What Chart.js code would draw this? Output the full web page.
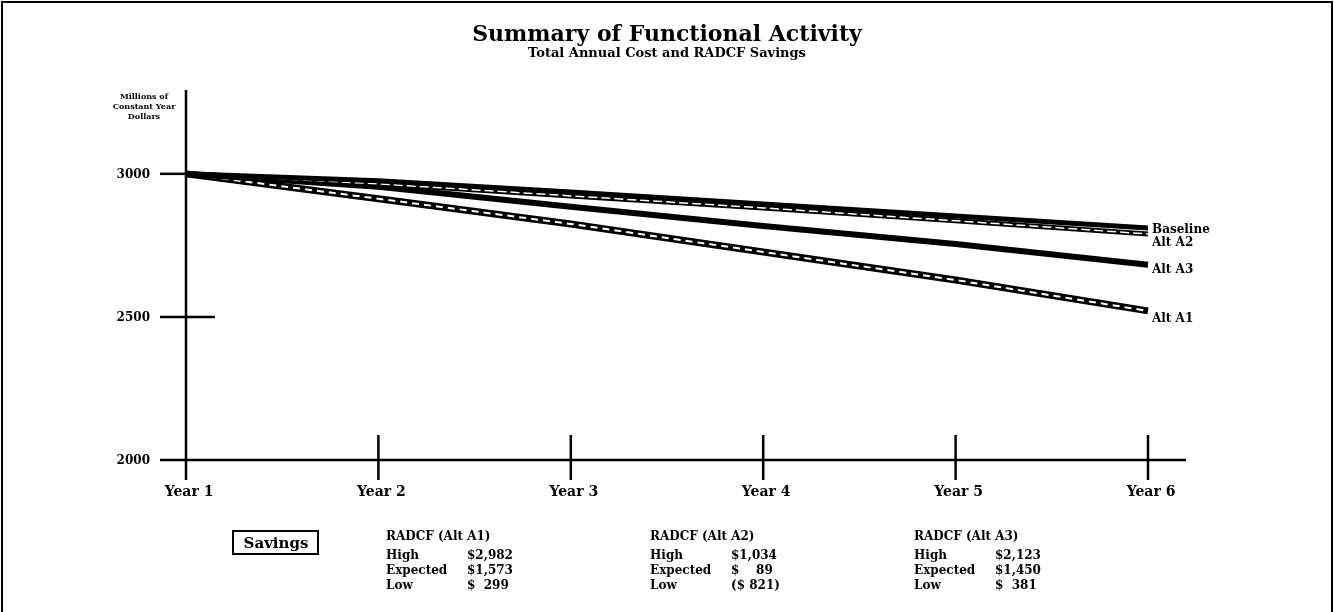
<!DOCTYPE html>
<html>
<head>
<meta charset="utf-8">
<title>Summary of Functional Activity</title>
<script src="https://cdn.jsdelivr.net/npm/chart.js@4.4.1/dist/chart.umd.min.js"></script>
<style>
  html, body { margin: 0; padding: 0; background: #fff; }
  #wrap { position: relative; width: 1334px; height: 612px; }
  canvas { display: block; }
</style>
</head>
<body>
<div id="wrap"><canvas id="activityChart" width="1334" height="612"></canvas></div>
<script>
const years = ['Year 1', 'Year 2', 'Year 3', 'Year 4', 'Year 5', 'Year 6'];
const baseline = [3000, 2976, 2937, 2895, 2853, 2811];
const altA2 = [3000, 2965, 2923, 2881, 2836, 2790];
const altA3 = [3000, 2955, 2885, 2818, 2755, 2682];
const altA1 = [3000, 2913, 2825, 2727, 2629, 2521];
const yTicks = [2000, 2500, 3000];

const savingsTitles = ['RADCF (Alt A1)', 'RADCF (Alt A2)', 'RADCF (Alt A3)'];
const savingsRows = ['High', 'Expected', 'Low'];
const savingsA1 = ['$2,982', '$1,573', '$  299'];
const savingsA2 = ['$1,034', '$    89', '($ 821)'];
const savingsA3 = ['$2,123', '$1,450', '$  381'];

const serif = '"DejaVu Serif", "Liberation Serif", serif';

// line end labels: [dataset label, text, y nudge]
const endLabels = [
    ['Baseline', 'Baseline', 2],
    ['Alt A2 outline', 'Alt A2', 9],
    ['Alt A3', 'Alt A3', 5],
    ['Alt A1 outline', 'Alt A1', 8]
];

const framePlugin = {
    id: 'frame',
    beforeDatasetsDraw(chart) {
        const ctx = chart.ctx;
        const x = chart.scales.x, y = chart.scales.y;
        const x0 = x.getPixelForValue(0);
        const yBase = y.getPixelForValue(2000);
        ctx.save();
        ctx.strokeStyle = '#000';
        ctx.fillStyle = '#000';

        // outer frame
        ctx.lineWidth = 2;
        ctx.strokeRect(2, 2, chart.width - 4, chart.height + 10);

        // titles
        ctx.textAlign = 'center';
        ctx.textBaseline = 'alphabetic';
        ctx.font = 'bold 22px ' + serif;
        ctx.fillText('Summary of Functional Activity', 667, 41);
        ctx.font = 'bold 13px ' + serif;
        ctx.fillText('Total Annual Cost and RADCF Savings', 667, 57);

        // y axis title
        ctx.font = 'bold 8px ' + serif;
        ctx.fillText('Millions of', 144, 99);
        ctx.fillText('Constant Year', 144, 109);
        ctx.fillText('Dollars', 144, 119);

        // axes
        ctx.lineWidth = 2.5;
        ctx.beginPath();
        ctx.moveTo(x0, 90);
        ctx.lineTo(x0, 480);
        ctx.moveTo(160, yBase);
        ctx.lineTo(1186, yBase);
        ctx.stroke();

        // y ticks and labels
        ctx.font = 'bold 12px ' + serif;
        ctx.textAlign = 'right';
        ctx.textBaseline = 'middle';
        yTicks.forEach(v => {
            const py = y.getPixelForValue(v);
            ctx.fillText(String(v), 150, py + 1);
            if (v === 2000) return;
            ctx.beginPath();
            ctx.moveTo(160, py);
            ctx.lineTo(v === 2500 ? 215 : x0, py);
            ctx.stroke();
        });

        // x ticks and labels
        ctx.textAlign = 'center';
        ctx.textBaseline = 'alphabetic';
        ctx.font = 'bold 14px ' + serif;
        years.forEach((label, i) => {
            const px = x.getPixelForValue(i);
            if (i > 0) {
                ctx.beginPath();
                ctx.moveTo(px, 435);
                ctx.lineTo(px, 480);
                ctx.stroke();
            }
            ctx.fillText(label, px + 3, 496);
        });

        // savings block
        ctx.lineWidth = 2;
        ctx.strokeRect(233, 531, 85, 23);
        ctx.font = 'bold 15px ' + serif;
        ctx.fillText('Savings', 276, 548);

        const cols = [386, 650, 914];
        const vals = [savingsA1, savingsA2, savingsA3];
        ctx.textAlign = 'left';
        ctx.font = 'bold 12px ' + serif;
        cols.forEach((cx, c) => {
            ctx.fillText(savingsTitles[c], cx, 540);
            savingsRows.forEach((row, r) => {
                const ry = 559 + r * 15;
                ctx.fillText(row, cx, ry);
                ctx.fillText(vals[c][r], cx + 81, ry);
            });
        });
        ctx.restore();
    },
    afterDatasetsDraw(chart) {
        const ctx = chart.ctx;
        ctx.save();
        ctx.fillStyle = '#000';
        ctx.font = 'bold 12px ' + serif;
        ctx.textAlign = 'left';
        ctx.textBaseline = 'middle';
        endLabels.forEach(([dsLabel, text, nudge]) => {
            const idx = chart.data.datasets.findIndex(d => d.label === dsLabel);
            const meta = chart.getDatasetMeta(idx);
            const pt = meta.data[meta.data.length - 1];
            ctx.fillText(text, pt.x + 4, pt.y + nudge);
        });
        ctx.restore();
    }
};

const ctx = document.getElementById('activityChart').getContext('2d');
new Chart(ctx, {
    type: 'line',
    data: {
        labels: years,
        datasets: [
            { label: 'Alt A1 outline', data: altA1, borderColor: '#000', borderWidth: 7, order: 8 },
            { label: 'Alt A1 inner', data: altA1, borderColor: '#fff', borderWidth: 2, borderDash: [7, 5], order: 7 },
            { label: 'Alt A3', data: altA3, borderColor: '#000', borderWidth: 6, order: 6 },
            { label: 'Alt A2 outline', data: altA2, borderColor: '#000', borderWidth: 5, order: 5 },
            { label: 'Alt A2 inner', data: altA2, borderColor: '#fff', borderWidth: 1.5, borderDash: [9, 4], order: 4 },
            { label: 'Baseline', data: baseline, borderColor: '#000', borderWidth: 5, order: 3 }
        ]
    },
    options: {
        responsive: false,
        animation: false,
        elements: {
            point: { radius: 0 },
            line: { tension: 0, borderCapStyle: 'butt' }
        },
        layout: {
            padding: { left: 186, right: 186, top: 88, bottom: 152 }
        },
        plugins: {
            legend: { display: false },
            title: { display: false },
            tooltip: { enabled: false }
        },
        scales: {
            x: { type: 'category', offset: false, display: false },
            y: { min: 2000, max: 3300, display: false }
        }
    },
    plugins: [framePlugin]
});
</script>
</body>
</html>
